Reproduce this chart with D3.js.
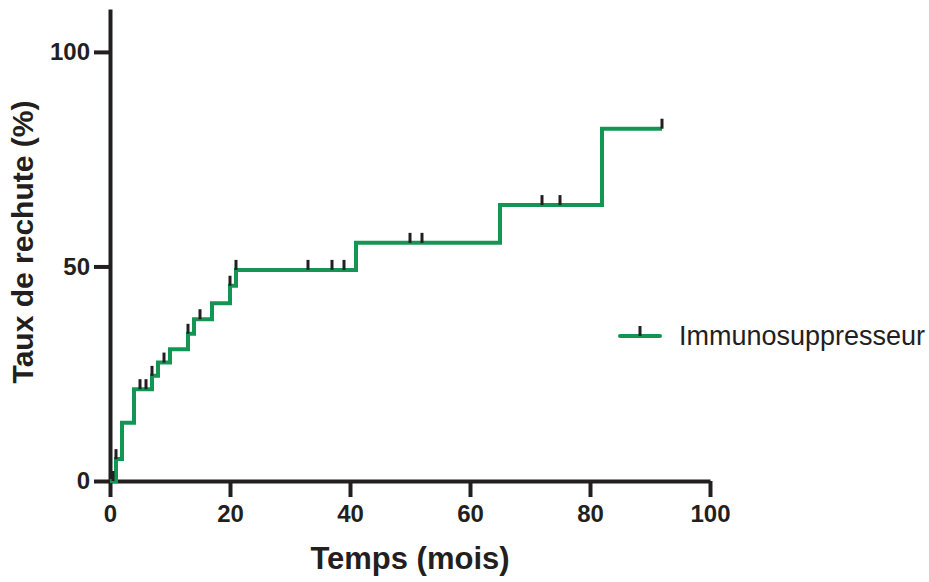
<!DOCTYPE html>
<html>
<head>
<meta charset="utf-8">
<script src="https://cdn.jsdelivr.net/npm/d3@7"></script>
<style>
  body { margin: 0; background: #fff; }
  svg { display: block; }
</style>
</head>
<body>
<div id="chart"></div>
<script>
// Kaplan-Meier style cumulative relapse curve

// step times (months) and relapse rate (%) after each step
var stepTimes = [0, 1, 2, 4, 7, 8, 10, 13, 14, 17, 20, 21, 41, 65, 82];
var stepRates = [0, 5.1, 13.6, 21.4, 24.5, 27.6, 30.7, 34.3, 37.7, 41.4, 45.5, 49.2, 55.5, 64.3, 82.1];
var lastTime = 92;
// censored patients (months)
var censorTimes = [0.5, 1, 5, 6, 7, 9, 13, 15, 20, 21, 33, 37, 39, 50, 52, 72, 75, 92];

var xTicks = [0, 20, 40, 60, 80, 100];
var yTicks = [0, 50, 100];
var seriesName = "Immunosuppresseur";

var drawChart = function() {

    // Size & style
    const width = 929, height = 582;
    var green = "#139653";
    var ink = "#231f20";
    var fontFamily = "'Liberation Sans', Arial, Helvetica, sans-serif";

    var svg = d3.select("#chart").append("svg")
        .attr("width", width)
        .attr("height", height);

    var x = d3.scaleLinear().domain([0, 100]).range([110, 710]);
    var y = d3.scaleLinear().domain([0, 110]).range([481, 9]);

    // X axis
    var xAxis = svg.append("g")
        .attr("transform", "translate(0," + y(0) + ")")
        .call(d3.axisBottom(x).tickValues(xTicks).tickSize(16).tickSizeOuter(0).tickPadding(8));

    // Y axis
    var yAxis = svg.append("g")
        .attr("transform", "translate(" + x(0) + ",0)")
        .call(d3.axisLeft(y).tickValues(yTicks).tickSize(16).tickSizeOuter(0).tickPadding(4));

    [xAxis, yAxis].forEach(function(ax) {
        ax.select(".domain").attr("stroke", ink).attr("stroke-width", 4);
        ax.selectAll(".tick line").attr("stroke", ink).attr("stroke-width", 4);
        ax.selectAll(".tick text")
            .attr("fill", ink)
            .attr("font-family", fontFamily)
            .attr("font-weight", "bold")
            .attr("font-size", 24);
    });

    // Axis titles
    svg.append("text")
        .attr("x", (x(0) + x(100)) / 2)
        .attr("y", 569)
        .attr("text-anchor", "middle")
        .attr("font-family", fontFamily)
        .attr("font-weight", "bold")
        .attr("font-size", 31)
        .attr("fill", ink)
        .text("Temps (mois)");

    svg.append("text")
        .attr("transform", "translate(33,242) rotate(-90)")
        .attr("text-anchor", "middle")
        .attr("font-family", fontFamily)
        .attr("font-weight", "bold")
        .attr("font-size", 30)
        .attr("fill", ink)
        .text("Taux de rechute (%)");

    // Step curve
    var pts = stepTimes.map(function(t, i) { return [t, stepRates[i]]; });
    pts.push([lastTime, stepRates[stepRates.length - 1]]);

    var line = d3.line()
        .x(function(d) { return x(d[0]); })
        .y(function(d) { return y(d[1]); })
        .curve(d3.curveStepAfter);

    svg.append("path")
        .datum(pts)
        .attr("d", line)
        .attr("fill", "none")
        .attr("stroke", green)
        .attr("stroke-width", 4)
        .attr("stroke-linejoin", "miter");

    // rate at a given time (last step at or before t)
    var rateAt = function(t) {
        var r = 0;
        stepTimes.forEach(function(s, i) { if (s <= t) r = stepRates[i]; });
        return r;
    };

    // Censor marks
    svg.append("g")
        .selectAll("line")
        .data(censorTimes)
        .enter()
        .append("line")
        .attr("x1", function(d) { return x(d); })
        .attr("x2", function(d) { return x(d); })
        .attr("y1", function(d) { return y(rateAt(d)); })
        .attr("y2", function(d) { return y(rateAt(d)) - 10; })
        .attr("stroke", ink)
        .attr("stroke-width", 3);

    // Legend
    var legend = svg.append("g").attr("transform", "translate(620,336)");
    legend.append("line")
        .attr("x1", 0).attr("x2", 40)
        .attr("y1", 0).attr("y2", 0)
        .attr("stroke", green)
        .attr("stroke-width", 4)
        .attr("stroke-linecap", "round");
    legend.append("line")
        .attr("x1", 20).attr("x2", 20)
        .attr("y1", 0).attr("y2", -10)
        .attr("stroke", ink)
        .attr("stroke-width", 3);
    legend.append("text")
        .attr("x", 59)
        .attr("y", 9)
        .attr("font-family", fontFamily)
        .attr("font-size", 27)
        .attr("fill", ink)
        .text(seriesName);
}

window.addEventListener("load", drawChart)
</script>
</body>
</html>
